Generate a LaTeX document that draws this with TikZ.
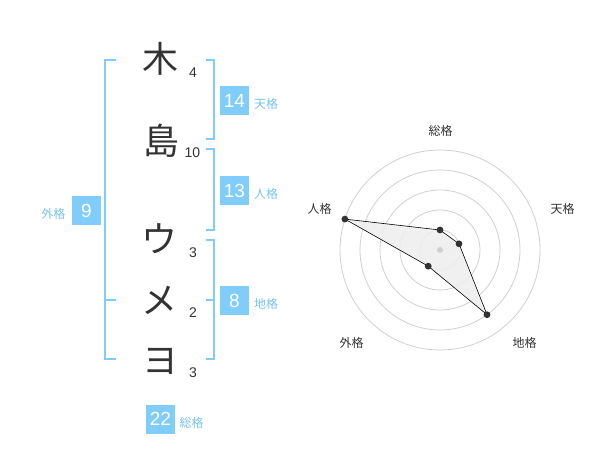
\documentclass[tikz,border=0pt]{standalone}
\usepackage{fontspec}
\setmainfont{Noto Sans CJK JP}
\newfontfamily\numfont{Liberation Sans}
\usetikzlibrary{calc}

\definecolor{kakublue}{RGB}{128,204,250}
\definecolor{kakutext}{RGB}{118,196,242}
\definecolor{inkgray}{RGB}{51,51,51}
\definecolor{ringgray}{RGB}{208,208,208}
\definecolor{areagray}{RGB}{238,238,238}

\begin{document}
\begin{tikzpicture}[x=1pt, y=-1pt,
    kanji/.style={inner sep=0pt, text=inkgray, font=\fontsize{36}{36}\selectfont},
    kaku/.style={inner sep=0pt, text=inkgray, font=\numfont\fontsize{14}{14}\selectfont},
    kakubox/.style={fill=kakublue, text=white, minimum size=29pt, inner sep=0pt,
        font=\numfont\fontsize{19}{19}\selectfont},
    kakuname/.style={inner sep=0pt, text=kakutext, font=\fontsize{12}{12}\selectfont},
    bracket/.style={draw=kakublue, line width=1.8pt},
    axisname/.style={inner sep=0pt, text=inkgray, font=\fontsize{12}{12}\selectfont},
    ]

    \useasboundingbox (0,0) rectangle (600,470);


    % name
    \node[kanji] (ki)  at (160,59)  {木};
    \node[kanji] (shima) at (161,141) {島};
    \node[kanji] (u)   at (159,239) {ウ};
    \node[kanji] (me)  at (159,300) {メ};
    \node[kanji] (yo)  at (160,361) {ヨ};

    \node[kaku] (ki_n)    at (193,73)  {4};
    \node[kaku] (shima_n) at (192.5,152.5) {10};
    \node[kaku] (u_n)     at (193,253) {3};
    \node[kaku] (me_n)    at (193,313) {2};
    \node[kaku] (yo_n)    at (193,373) {3};


    % gaikaku
    \coordinate (gai_top) at (105,60);
    \coordinate (gai_bot) at (105,359);
    \coordinate (gai_mid) at (105,300);
    \draw[bracket]
        ($(gai_top)+(11,0)$) --
        (gai_top) --
        (gai_bot) --
        ++(11,0);
    \draw[bracket] (gai_mid) -- ++(11,0);

    \node[kakubox] (gai) at (86.5,210.5) {9};
    \node[kakuname] (gai_name) at (53.5,214) {外格};


    % tenkaku
    \coordinate (ten_top) at (214,60);
    \coordinate (ten_bot) at (214,139);
    \draw[bracket]
        ($(ten_top)+(-8,0)$) --
        (ten_top) --
        (ten_bot) --
        ++(-8,0);

    \node[kakubox] (ten) at (234.5,100.5) {14};
    \node[kakuname] (ten_name) at (266,104) {天格};


    % jinkaku
    \coordinate (jin_top) at (214,149);
    \coordinate (jin_bot) at (214,230);
    \draw[bracket]
        ($(jin_top)+(-8,0)$) --
        (jin_top) --
        (jin_bot) --
        ++(-8,0);

    \node[kakubox] (jin) at (234.5,190.5) {13};
    \node[kakuname] (jin_name) at (266,194) {人格};


    % chikaku
    \coordinate (chi_top) at (214,240);
    \coordinate (chi_bot) at (214,359);
    \coordinate (chi_mid) at (214,300);
    \draw[bracket]
        ($(chi_top)+(-8,0)$) --
        (chi_top) --
        (chi_bot) --
        ++(-8,0);
    \draw[bracket] (chi_mid) -- ++(-8,0);

    \node[kakubox] (chi) at (234.5,300.5) {8};
    \node[kakuname] (chi_name) at (266,304) {地格};


    % soukaku
    \node[kakubox] (sou) at (160.5,419) {22};
    \node[kakuname] (sou_name) at (191.5,423) {総格};


    % radar
    \begin{scope}[shift={(440,250)}, yscale=-1]
        \coordinate (orig) at (0,0);

        \foreach \r in {20,40,60,80,100}
            \draw[ringgray, line width=0.8pt] (orig) circle (\r);

        \coordinate (p_sou) at (90:20);
        \coordinate (p_ten) at (18:20);
        \coordinate (p_chi) at (-54:80);
        \coordinate (p_gai) at (-126:20);
        \coordinate (p_jin) at (162:100);

        \fill[areagray, opacity=0.9]
            (p_sou) -- (p_ten) -- (p_chi) -- (p_gai) -- (p_jin) -- cycle;
        \fill[ringgray] (orig) circle (3);
        \draw[black, line width=0.6pt]
            (p_sou) -- (p_ten) -- (p_chi) -- (p_gai) -- (p_jin) -- cycle;

        \foreach \p in {p_sou,p_ten,p_chi,p_gai,p_jin}
            \fill[inkgray] (\p) circle (3.4);

        \node[axisname] (a_sou) at (0.5,119.5)    {総格};
        \node[axisname] (a_ten) at (122.5,41.5)   {天格};
        \node[axisname] (a_chi) at (84.5,-92.5)   {地格};
        \node[axisname] (a_gai) at (-88.5,-92.5)  {外格};
        \node[axisname] (a_jin) at (-120.5,41.5)  {人格};
    \end{scope}


\end{tikzpicture}
\end{document}
